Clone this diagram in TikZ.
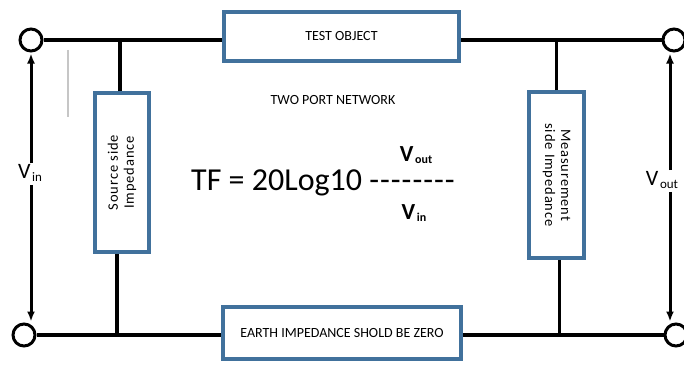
\documentclass[tikz,border=0pt]{standalone}
\usepackage{fontspec}
\setmainfont{Carlito}
\usetikzlibrary{arrows.meta,positioning,calc}
\definecolor{BoxBlue}{HTML}{41719C}
\tikzset{
  wire/.style={line width=3.5pt, draw=black},
  terminal/.style={circle, draw=black, line width=3pt, fill=white, minimum size=22pt, inner sep=0pt},
  blockbox/.style={draw=BoxBlue, line width=3.5pt, fill=white, align=center, inner sep=2pt},
  varrow/.style={-{Latex[length=10pt,width=8pt]}, line width=3pt, draw=black},
  caption/.style={font=\fontsize{14}{16}\selectfont, align=center},
  sidecap/.style={font=\fontsize{14.5}{16}\selectfont\addfontfeature{LetterSpace=6}, align=center}
}
\newcommand{\volt}[3]{{\fontsize{#1}{#1}\selectfont V}\,\raisebox{-0.25em}{\fontsize{#2}{#2}\selectfont #3}}
\begin{document}
\begin{tikzpicture}[x=1pt, y=1pt]
  \useasboundingbox (0,0) rectangle (684,365);

  % boxes
  \node[blockbox, minimum width=235pt, minimum height=49pt, caption] (test) at (341.5,328.5) {TEST OBJECT};
  \node[blockbox, minimum width=238pt, minimum height=52pt, caption] (earth) at (342,32) {EARTH IMPEDANCE SHOLD BE ZERO};
  \node[blockbox, minimum width=54pt, minimum height=159pt] (src) at (122,192.5) {};
  \node[blockbox, minimum width=55pt, minimum height=166pt] (meas) at (556.5,190) {};
  \node[sidecap, rotate=90] (srclbl) at (src.center) {Source side\\Impedance};
  \node[sidecap, rotate=-90] (measlbl) at (meas.center) {Measurement\\side Impedance};

  % port terminals
  \node[terminal] (tl) at (31,325) {};
  \node[terminal] (bl) at (24,30) {};
  \node[terminal] (tr) at (674,325) {};
  \node[terminal] (br) at (676,30) {};

  % wiring
  \draw[wire] (tl.east) -- (tl.east -| test.west);
  \draw[wire] (tr.west) -- (tr.west -| test.east);
  \draw[wire] (bl.east) -- (bl.east -| earth.west);
  \draw[wire] (br.west) -- (br.west -| earth.east);
  \draw[wire] ([xshift=-2pt]src.north) -- ([xshift=-2pt]src.north |- tl);
  \draw[wire] ([xshift=-5pt]src.south) -- ([xshift=-5pt]src.south |- bl);
  \draw[wire] (meas.north) -- (meas.north |- tr);
  \draw[wire] ([xshift=3pt]meas.south) -- ([xshift=3pt]meas.south |- br);
  \draw[gray!45, line width=1.2pt] (68,315) -- (68,248);

  % port voltages
  \node (vin) at (30,192) {\volt{22}{13}{in}};
  \node (vout) at (662,185) {\volt{22}{13}{out}};
  \draw[varrow] ([yshift=-2pt]tl.south |- vin.north) -- ([yshift=-1pt]tl.south);
  \draw[varrow] (tl.south |- vin.south) -- ([yshift=1pt]tl.south |- bl.north);
  \draw[varrow] ([xshift=-4pt,yshift=-2pt]tr.south |- vout.north) -- ([xshift=-4pt,yshift=-1pt]tr.south);
  \draw[varrow] ([xshift=-4pt]tr.south |- vout.south) -- ([xshift=-4pt,yshift=1pt]tr.south |- br.north);

  % transfer function
  \node[caption] (twoport) at (333,265) {TWO PORT NETWORK};
  \node[anchor=west, inner sep=0pt, font=\fontsize{32}{32}\selectfont] (tf) at (191,182) {TF = 20Log10 -\kern1pt-\kern1pt-\kern1pt-\kern1pt-\kern1pt-\kern1pt-\kern1pt-};
  \node[font=\bfseries] (num) at (416,210) {\volt{23}{12}{out}};
  \node[font=\bfseries] (den) at (414,152) {\volt{23}{12}{in}};
\end{tikzpicture}
\end{document}
